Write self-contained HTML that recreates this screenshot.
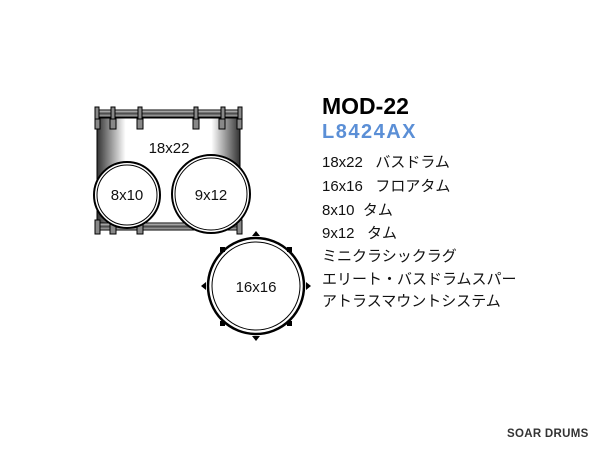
<!DOCTYPE html>
<html><head><meta charset="utf-8"><style>
body{margin:0;width:600px;height:450px;background:#fff;overflow:hidden;position:relative;font-family:"Liberation Sans","Noto Sans CJK JP",sans-serif}
.t{position:absolute;left:322px;font-size:15px;color:#111;white-space:nowrap}
</style></head><body>
<svg width="600" height="450" style="position:absolute;left:0;top:0">
<defs>
<linearGradient id="sh" x1="0" x2="1">
<stop offset="0" stop-color="#333"/><stop offset="0.2" stop-color="#fff"/><stop offset="0.8" stop-color="#fff"/><stop offset="1" stop-color="#333"/>
</linearGradient>
<linearGradient id="hp" x1="0" y1="0" x2="0" y2="1">
<stop offset="0" stop-color="#eee"/><stop offset="0.5" stop-color="#444"/><stop offset="1" stop-color="#ccc"/>
</linearGradient>
</defs>
<rect x="97" y="118" width="143" height="106" fill="url(#sh)" stroke="#000"/>
<rect x="96" y="110" width="145" height="7" fill="url(#hp)" stroke="#000"/>
<rect x="96" y="223" width="145" height="7" fill="url(#hp)" stroke="#000"/>
<g fill="#888" stroke="#000">
<rect x="95" y="107" width="4" height="12"/><rect x="238" y="107" width="4" height="12"/>
<rect x="111" y="107" width="4" height="12"/><rect x="138" y="107" width="4" height="12"/><rect x="194" y="107" width="4" height="12"/><rect x="221" y="107" width="4" height="12"/>
<rect x="95" y="119" width="5" height="10"/><rect x="110" y="119" width="6" height="10"/><rect x="137" y="119" width="6" height="10"/><rect x="193" y="119" width="6" height="10"/><rect x="219" y="119" width="6" height="10"/><rect x="237" y="119" width="5" height="10"/>
<rect x="95" y="220" width="5" height="14"/><rect x="110" y="220" width="6" height="14"/><rect x="137" y="220" width="6" height="14"/><rect x="237" y="220" width="5" height="14"/>
</g>
<g fill="#fff" stroke="#000">
<circle cx="127" cy="195" r="33" stroke-width="2"/><circle cx="127" cy="195" r="30"/>
<circle cx="211" cy="194" r="39" stroke-width="2"/><circle cx="211" cy="194" r="36"/>
<circle cx="256" cy="286" r="48" stroke-width="2.5"/><circle cx="256" cy="286" r="44"/>
</g>
<g fill="#000">
<path d="M252 236l4-5 4 5z"/><path d="M252 336l4 5 4-5z"/><path d="M206 282l-5 4 5 4z"/><path d="M306 282l5 4-5 4z"/>
<rect x="220" y="247" width="5" height="5"/><rect x="287" y="247" width="5" height="5"/><rect x="220" y="321" width="5" height="5"/><rect x="287" y="321" width="5" height="5"/>
</g>
<g font-size="15" fill="#111" text-anchor="middle" font-family="Liberation Sans,sans-serif">
<text x="169" y="153">18x22</text><text x="127" y="200">8x10</text><text x="211" y="200">9x12</text><text x="256" y="292">16x16</text>
</g>
</svg>
<div style="position:absolute;left:322px;top:93px;font-size:23px;font-weight:bold;color:#000">MOD-22</div>
<div style="position:absolute;left:322px;top:121px;font-size:20px;font-weight:bold;color:#5b8fd6;letter-spacing:1.5px">L8424AX</div>
<div class="t" style="top:151px">18x22&nbsp;&nbsp; バスドラム</div>
<div class="t" style="top:175px">16x16&nbsp;&nbsp; フロアタム</div>
<div class="t" style="top:199px">8x10&nbsp; タム</div>
<div class="t" style="top:222px">9x12&nbsp;&nbsp; タム</div>
<div class="t" style="top:245px">ミニクラシックラグ</div>
<div class="t" style="top:268px">エリート・バスドラムスパー</div>
<div class="t" style="top:290px">アトラスマウントシステム</div>
<div style="position:absolute;left:507px;top:428px;font-size:11.5px;font-weight:bold;color:#333;letter-spacing:0.3px">SOAR DRUMS</div>
</body></html>
